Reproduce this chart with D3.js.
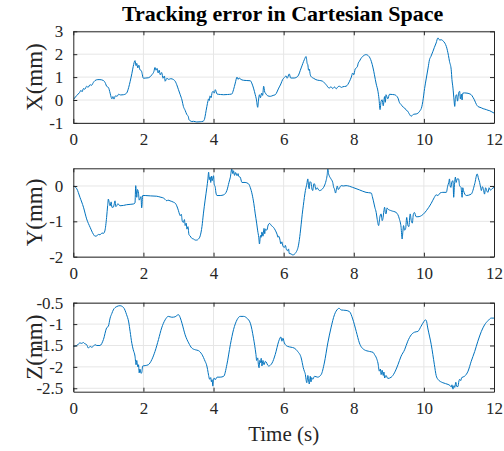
<!DOCTYPE html>
<html>
<head>
<meta charset="utf-8">
<script src="https://cdn.jsdelivr.net/npm/d3@7"></script>
<style>
  body { margin: 0; background: #fff; }
  text { font-family: "Liberation Serif", "Times New Roman", serif; fill: #262626; }
</style>
</head>
<body>
<div id="chart"></div>
<script>
// tracking error samples, [time (s), error (mm)]
const errX = [[0,0.02],[0.1,0.2],[0.18,0.33],[0.22,0.42],[0.25,0.36],[0.29,0.5],[0.33,0.47],[0.38,0.6],[0.42,0.55],[0.48,0.67],[0.52,0.64],[0.57,0.76],[0.62,0.85],[0.7,0.89],[0.76,0.89],[0.86,0.85],[0.92,0.72],[0.95,0.6],[1.0,0.55],[1.05,0.3],[1.08,0.12],[1.1,0.05],[1.13,0.15],[1.16,0.04],[1.2,0.18],[1.25,0.16],[1.29,0.25],[1.35,0.22],[1.43,0.23],[1.52,0.3],[1.58,0.55],[1.62,0.8],[1.67,1.15],[1.71,1.47],[1.76,1.72],[1.79,1.5],[1.81,1.6],[1.84,1.4],[1.87,1.52],[1.9,1.32],[1.94,1.28],[2.0,0.95],[2.07,0.96],[2.14,0.97],[2.24,1.1],[2.3,1.25],[2.33,1.42],[2.36,1.3],[2.39,1.38],[2.42,1.18],[2.45,1.3],[2.48,1.1],[2.52,1.2],[2.56,0.95],[2.6,1.05],[2.62,0.82],[2.67,0.95],[2.72,0.9],[2.78,0.93],[2.86,0.89],[2.92,0.78],[2.95,0.67],[3.0,0.45],[3.05,0.23],[3.1,0.0],[3.14,-0.28],[3.19,-0.45],[3.24,-0.64],[3.28,-0.72],[3.3,-0.86],[3.33,-0.9],[3.38,-0.94],[3.43,-0.93],[3.52,-0.96],[3.62,-0.95],[3.7,-0.93],[3.74,-0.85],[3.76,-0.71],[3.79,-0.45],[3.81,-0.28],[3.84,-0.05],[3.86,0.05],[3.88,-0.02],[3.9,0.18],[3.93,0.1],[3.96,0.33],[3.99,0.38],[4.02,0.3],[4.05,0.45],[4.1,0.26],[4.2,0.24],[4.29,0.23],[4.4,0.24],[4.52,0.26],[4.57,0.45],[4.62,0.74],[4.67,1.0],[4.7,0.9],[4.73,0.97],[4.76,0.92],[4.86,0.86],[4.95,0.85],[5.05,0.84],[5.1,0.7],[5.14,0.52],[5.19,0.23],[5.22,0.05],[5.26,-0.32],[5.28,-0.05],[5.31,0.23],[5.34,0.1],[5.37,0.3],[5.4,0.2],[5.43,0.6],[5.46,0.35],[5.48,0.3],[5.55,0.18],[5.62,0.16],[5.7,0.2],[5.76,0.23],[5.86,0.52],[5.92,0.7],[5.97,0.89],[6.02,0.98],[6.07,1.05],[6.1,0.95],[6.16,1.14],[6.2,0.96],[6.3,0.96],[6.4,1.03],[6.5,1.4],[6.59,1.76],[6.64,1.9],[6.67,1.6],[6.69,1.54],[6.71,1.3],[6.73,1.35],[6.76,1.1],[6.78,1.03],[6.85,0.95],[6.92,0.89],[7.11,0.82],[7.21,0.67],[7.3,0.52],[7.35,0.58],[7.4,0.5],[7.45,0.57],[7.5,0.49],[7.55,0.58],[7.59,0.6],[7.65,0.55],[7.69,0.58],[7.78,0.6],[7.88,0.82],[7.93,1.0],[7.97,1.18],[8.0,1.1],[8.04,1.35],[8.07,1.4],[8.1,1.45],[8.13,1.62],[8.16,1.69],[8.2,1.8],[8.26,1.91],[8.35,1.98],[8.43,1.91],[8.5,1.69],[8.55,1.4],[8.59,1.1],[8.64,0.7],[8.69,0.38],[8.72,0.05],[8.75,-0.42],[8.78,-0.05],[8.81,0.01],[8.84,-0.25],[8.88,0.15],[8.9,-0.1],[8.92,0.23],[8.97,0.05],[9.02,0.25],[9.1,0.24],[9.16,0.23],[9.26,0.09],[9.3,-0.1],[9.35,-0.2],[9.4,-0.3],[9.45,-0.35],[9.5,-0.45],[9.54,-0.49],[9.58,-0.6],[9.64,-0.71],[9.68,-0.65],[9.72,-0.62],[9.78,-0.61],[9.88,-0.49],[9.94,-0.3],[9.97,-0.06],[10.02,0.5],[10.07,0.96],[10.12,1.4],[10.16,1.76],[10.2,1.9],[10.26,2.13],[10.3,2.3],[10.35,2.49],[10.4,2.71],[10.45,2.62],[10.5,2.63],[10.54,2.59],[10.6,2.48],[10.64,2.34],[10.7,1.95],[10.73,1.69],[10.78,1.32],[10.8,0.9],[10.83,0.52],[10.86,0.0],[10.88,-0.28],[10.9,0.1],[10.93,0.23],[10.96,-0.05],[10.99,0.3],[11.02,0.38],[11.04,0.05],[11.07,0.25],[11.09,0.0],[11.11,0.3],[11.16,0.31],[11.23,0.3],[11.35,0.23],[11.4,0.12],[11.44,0.01],[11.5,-0.2],[11.54,-0.28],[11.6,-0.32],[11.65,-0.35],[11.69,-0.38],[11.74,-0.4],[11.78,-0.42],[11.83,-0.45],[11.88,-0.47],[11.94,-0.52],[12.0,-0.57]];

const errY = [[0,0],[0.05,-0.02],[0.1,-0.08],[0.19,-0.32],[0.29,-0.6],[0.38,-0.93],[0.48,-1.17],[0.57,-1.36],[0.62,-1.42],[0.67,-1.41],[0.72,-1.37],[0.76,-1.38],[0.82,-1.33],[0.86,-1.34],[0.9,-1.27],[0.95,-0.89],[0.98,-0.55],[1.0,-0.37],[1.03,-0.5],[1.05,-0.56],[1.08,-0.45],[1.1,-0.6],[1.14,-0.6],[1.17,-0.5],[1.19,-0.42],[1.21,-0.58],[1.24,-0.56],[1.27,-0.5],[1.33,-0.56],[1.43,-0.55],[1.52,-0.53],[1.62,-0.52],[1.71,-0.51],[1.76,-0.48],[1.78,0.01],[1.8,-0.2],[1.81,-0.32],[1.83,-0.1],[1.86,-0.2],[1.88,-0.4],[1.9,-0.37],[1.93,-0.3],[1.95,-0.62],[1.98,-0.27],[2.05,-0.27],[2.2,-0.28],[2.38,-0.29],[2.5,-0.32],[2.57,-0.34],[2.62,-0.38],[2.67,-0.42],[2.7,-0.4],[2.76,-0.42],[2.86,-0.46],[2.92,-0.5],[2.95,-0.56],[3.0,-0.7],[3.03,-0.8],[3.05,-0.84],[3.08,-0.8],[3.11,-1.0],[3.14,-1.03],[3.17,-0.95],[3.19,-1.12],[3.22,-1.05],[3.24,-1.22],[3.27,-1.15],[3.3,-1.38],[3.33,-1.41],[3.38,-1.48],[3.43,-1.5],[3.48,-1.53],[3.52,-1.53],[3.57,-1.5],[3.62,-1.41],[3.67,-1.15],[3.71,-0.79],[3.76,-0.4],[3.81,-0.04],[3.84,0.2],[3.86,0.39],[3.88,0.18],[3.9,0.25],[3.92,0.1],[3.94,0.28],[3.96,0.15],[4.0,0.29],[4.02,0.05],[4.05,-0.04],[4.07,-0.2],[4.1,-0.27],[4.19,-0.27],[4.29,-0.25],[4.38,-0.13],[4.44,0.1],[4.48,0.25],[4.52,0.48],[4.55,0.35],[4.57,0.43],[4.6,0.3],[4.63,0.38],[4.67,0.29],[4.7,0.35],[4.72,0.27],[4.76,0.25],[4.81,0.1],[4.9,0.1],[5.0,0.06],[5.05,-0.05],[5.1,-0.23],[5.15,-0.5],[5.19,-0.79],[5.23,-1.05],[5.26,-1.27],[5.29,-1.45],[5.31,-1.64],[5.34,-1.4],[5.36,-1.45],[5.38,-1.3],[5.41,-1.42],[5.44,-1.2],[5.46,-1.35],[5.48,-1.22],[5.52,-1.25],[5.56,-1.1],[5.6,-1.06],[5.65,-1.12],[5.71,-1.17],[5.76,-1.25],[5.81,-1.36],[5.84,-1.45],[5.86,-1.42],[5.89,-1.5],[5.92,-1.64],[5.95,-1.58],[5.98,-1.7],[6.02,-1.74],[6.05,-1.68],[6.08,-1.8],[6.11,-1.83],[6.14,-1.78],[6.16,-1.91],[6.21,-1.92],[6.26,-1.95],[6.35,-1.88],[6.43,-1.64],[6.47,-1.35],[6.5,-1.08],[6.53,-0.8],[6.56,-0.56],[6.62,-0.13],[6.66,0.05],[6.69,0.2],[6.71,0.0],[6.73,-0.08],[6.75,0.12],[6.78,0.1],[6.8,-0.05],[6.83,-0.13],[6.86,0.06],[6.88,0.06],[6.92,-0.1],[6.95,-0.05],[7.02,-0.13],[7.11,-0.08],[7.16,0.0],[7.21,0.15],[7.24,0.3],[7.26,0.48],[7.28,0.35],[7.3,0.29],[7.35,0.2],[7.4,0.1],[7.43,-0.05],[7.45,-0.08],[7.48,-0.2],[7.5,-0.13],[7.53,0.0],[7.56,-0.1],[7.59,-0.06],[7.64,0.01],[7.7,0.0],[7.78,0.01],[7.97,-0.04],[8.16,-0.11],[8.35,-0.18],[8.5,-0.2],[8.53,-0.3],[8.56,-0.42],[8.6,-0.6],[8.64,-0.75],[8.67,-0.95],[8.71,-1.12],[8.74,-0.9],[8.78,-0.79],[8.81,-0.98],[8.83,-0.93],[8.86,-0.7],[8.88,-0.6],[8.9,-0.75],[8.92,-0.79],[8.95,-0.62],[8.97,-0.65],[9.07,-0.7],[9.21,-0.75],[9.3,-0.93],[9.35,-1.17],[9.38,-1.5],[9.4,-1.3],[9.42,-1.12],[9.45,-1.25],[9.48,-1.2],[9.51,-0.89],[9.54,-1.1],[9.57,-1.15],[9.61,-0.79],[9.64,-0.98],[9.67,-1.05],[9.7,-0.8],[9.73,-0.75],[9.78,-0.87],[9.83,-0.87],[9.97,-0.81],[10.07,-0.7],[10.21,-0.49],[10.3,-0.32],[10.35,-0.25],[10.4,-0.27],[10.46,-0.2],[10.54,-0.18],[10.64,-0.18],[10.68,0.0],[10.71,0.1],[10.73,0.2],[10.75,0.0],[10.77,-0.04],[10.8,0.12],[10.83,0.15],[10.85,-0.32],[10.87,0.0],[10.9,0.25],[10.92,0.1],[10.95,0.2],[10.99,0.2],[11.02,0.0],[11.06,-0.04],[11.09,-0.32],[11.11,-0.05],[11.13,-0.13],[11.21,-0.27],[11.35,-0.23],[11.45,0.06],[11.52,0.34],[11.56,0.2],[11.59,0.1],[11.62,-0.05],[11.64,-0.13],[11.67,-0.02],[11.7,-0.1],[11.73,-0.23],[11.76,-0.05],[11.8,-0.15],[11.83,-0.18],[11.86,-0.05],[11.9,-0.12],[11.94,-0.08],[12.0,-0.04]];

const errZ = [[0,-1.52],[0.1,-1.5],[0.19,-1.44],[0.24,-1.45],[0.29,-1.43],[0.33,-1.46],[0.38,-1.48],[0.43,-1.56],[0.48,-1.52],[0.52,-1.54],[0.57,-1.52],[0.62,-1.48],[0.67,-1.5],[0.76,-1.5],[0.86,-1.36],[0.95,-1.09],[1.0,-1.05],[1.05,-0.86],[1.1,-0.75],[1.14,-0.67],[1.24,-0.59],[1.33,-0.57],[1.43,-0.61],[1.52,-0.78],[1.58,-0.95],[1.62,-1.17],[1.67,-1.45],[1.71,-1.6],[1.76,-1.75],[1.79,-1.95],[1.81,-1.85],[1.84,-2.0],[1.86,-1.95],[1.88,-2.14],[1.9,-2.05],[1.93,-2.15],[1.95,-2.14],[1.98,-1.98],[2.05,-1.97],[2.14,-1.95],[2.24,-1.83],[2.33,-1.64],[2.43,-1.36],[2.52,-1.09],[2.62,-0.9],[2.71,-0.82],[2.81,-0.84],[2.9,-0.83],[3.0,-0.78],[3.05,-0.85],[3.1,-0.98],[3.19,-1.25],[3.29,-1.44],[3.38,-1.56],[3.48,-1.6],[3.57,-1.62],[3.67,-1.71],[3.76,-1.87],[3.8,-1.95],[3.83,-2.06],[3.86,-2.2],[3.89,-2.29],[3.92,-2.25],[3.94,-2.35],[3.96,-2.3],[3.98,-2.45],[4.0,-2.3],[4.02,-2.26],[4.05,-2.3],[4.1,-2.24],[4.19,-2.24],[4.29,-2.22],[4.38,-1.95],[4.48,-1.48],[4.57,-1.13],[4.67,-0.9],[4.76,-0.82],[4.86,-0.82],[4.95,-0.86],[5.05,-0.98],[5.14,-1.33],[5.21,-1.71],[5.23,-1.85],[5.26,-1.79],[5.28,-1.95],[5.3,-2.02],[5.32,-1.85],[5.34,-1.9],[5.36,-1.8],[5.38,-1.98],[5.41,-1.85],[5.44,-1.95],[5.48,-1.87],[5.57,-1.98],[5.67,-1.91],[5.76,-1.71],[5.86,-1.4],[5.9,-1.32],[5.92,-1.3],[5.95,-1.4],[5.98,-1.33],[6.02,-1.44],[6.11,-1.52],[6.21,-1.54],[6.3,-1.56],[6.4,-1.64],[6.5,-1.79],[6.53,-1.9],[6.56,-2.02],[6.59,-2.1],[6.62,-2.18],[6.64,-2.3],[6.66,-2.37],[6.69,-2.2],[6.71,-2.3],[6.73,-2.4],[6.76,-2.22],[6.78,-2.35],[6.8,-2.25],[6.83,-2.29],[6.88,-2.22],[6.97,-2.24],[7.07,-2.18],[7.16,-1.91],[7.26,-1.44],[7.35,-1.09],[7.45,-0.78],[7.54,-0.65],[7.58,-0.63],[7.64,-0.67],[7.78,-0.68],[7.88,-0.71],[7.97,-0.88],[8.07,-1.17],[8.16,-1.44],[8.3,-1.6],[8.45,-1.64],[8.55,-1.66],[8.59,-1.71],[8.65,-1.8],[8.69,-1.91],[8.73,-2.1],[8.76,-2.05],[8.78,-2.18],[8.81,-2.08],[8.84,-2.2],[8.86,-2.12],[8.88,-2.26],[8.92,-2.2],[8.97,-2.27],[9.07,-2.24],[9.16,-2.14],[9.26,-1.95],[9.35,-1.75],[9.45,-1.6],[9.54,-1.4],[9.64,-1.25],[9.73,-1.19],[9.83,-1.17],[9.92,-1.05],[10.0,-0.94],[10.04,-0.9],[10.07,-0.92],[10.11,-1.09],[10.21,-1.48],[10.3,-1.95],[10.35,-2.2],[10.4,-2.29],[10.54,-2.37],[10.69,-2.41],[10.75,-2.44],[10.78,-2.47],[10.8,-2.42],[10.83,-2.52],[10.86,-2.44],[10.88,-2.48],[10.91,-2.36],[10.94,-2.46],[10.97,-2.46],[11.0,-2.33],[11.02,-2.29],[11.05,-2.32],[11.08,-2.25],[11.16,-2.22],[11.26,-2.1],[11.35,-1.87],[11.45,-1.64],[11.54,-1.4],[11.64,-1.17],[11.73,-1.02],[11.83,-0.92],[11.92,-0.86],[12.0,-0.86]];

const timeTicks = [0, 2, 4, 6, 8, 10, 12];
const ticksX = [-1, 0, 1, 2, 3];
const ticksY = [-2, -1, 0];
const ticksZ = [-2.5, -2, -1.5, -1, -0.5];

const W = 504, H = 451;
const left = 73.3, right = 494;
const serif = '"Liberation Serif", "Times New Roman", serif';

const panels = [
    {data: errX, label: "X(mm)", domain: [-1, 3],       ticks: ticksX, top: 31.3,  bottom: 122.9},
    {data: errY, label: "Y(mm)", domain: [-2, 0.5],     ticks: ticksY, top: 168.3, bottom: 256.7},
    {data: errZ, label: "Z(mm)", domain: [-2.58, -0.5], ticks: ticksZ, top: 302.7, bottom: 391.7}
];

const svg = d3.select("#chart").append("svg")
    .attr("width", W)
    .attr("height", H);

const x = d3.scaleLinear().domain([0, 12]).range([left, right]);

svg.append("text")
    .attr("x", (left + right) / 2 - 1)
    .attr("y", 21)
    .attr("text-anchor", "middle")
    .attr("font-family", serif)
    .attr("font-size", 22)
    .attr("font-weight", "bold")
    .style("fill", "#000")
    .text("Tracking error in Cartesian Space");

panels.forEach((p, i) => {
    const y = d3.scaleLinear().domain(p.domain).range([p.bottom, p.top]);
    const g = svg.append("g");

    // grid
    g.selectAll(".gx").data(timeTicks.slice(1, -1)).enter().append("line")
        .attr("x1", d => x(d)).attr("x2", d => x(d))
        .attr("y1", p.top).attr("y2", p.bottom)
        .attr("stroke", "#e6e6e6").attr("stroke-width", 1);
    g.selectAll(".gy").data(p.ticks).enter().append("line")
        .attr("x1", left).attr("x2", right)
        .attr("y1", d => y(d)).attr("y2", d => y(d))
        .attr("stroke", "#e6e6e6").attr("stroke-width", 1);

    // curve
    const clipId = "clip" + i;
    svg.append("clipPath").attr("id", clipId).append("rect")
        .attr("x", left).attr("y", p.top)
        .attr("width", right - left).attr("height", p.bottom - p.top);

    const line = d3.line()
        .x(d => x(d[0]))
        .y(d => y(d[1]))
        .curve(d3.curveMonotoneX);

    g.append("path")
        .datum(p.data)
        .attr("clip-path", `url(#${clipId})`)
        .attr("d", line)
        .attr("fill", "none")
        .attr("stroke", "#0072BD")
        .attr("stroke-width", 1);

    // axes, ticks inside like matlab
    const tl = 4;
    const axB = d3.axisBottom(x).tickValues(timeTicks).tickSizeInner(-tl).tickSizeOuter(0).tickPadding(10);
    const axT = d3.axisTop(x).tickValues(timeTicks).tickSizeInner(-tl).tickSizeOuter(0).tickFormat("");
    const axL = d3.axisLeft(y).tickValues(p.ticks).tickSizeInner(-tl).tickSizeOuter(0).tickPadding(10).tickFormat(d => String(d));
    const axR = d3.axisRight(y).tickValues(p.ticks).tickSizeInner(-tl).tickSizeOuter(0).tickFormat("");

    [[axB, `translate(0,${p.bottom})`], [axT, `translate(0,${p.top})`],
     [axL, `translate(${left},0)`], [axR, `translate(${right},0)`]].forEach(([ax, tr]) => {
        const a = g.append("g").attr("transform", tr).call(ax)
            .attr("font-family", serif)
            .attr("font-size", 17);
        a.select(".domain").attr("stroke", "#262626").attr("stroke-width", 1);
        a.selectAll(".tick line").attr("stroke", "#262626");
        a.selectAll(".tick text").attr("fill", "#262626");
    });

    svg.append("text")
        .attr("transform", `translate(34,${(p.top + p.bottom) / 2}) rotate(-90)`)
        .attr("text-anchor", "middle")
        .attr("dy", "0.35em")
        .attr("font-family", serif)
        .attr("font-size", 23)
        .text(p.label);
});

svg.append("text")
    .attr("x", (left + right) / 2)
    .attr("y", 441)
    .attr("text-anchor", "middle")
    .attr("font-family", serif)
    .attr("font-size", 21)
    .text("Time (s)");
</script>
</body>
</html>
